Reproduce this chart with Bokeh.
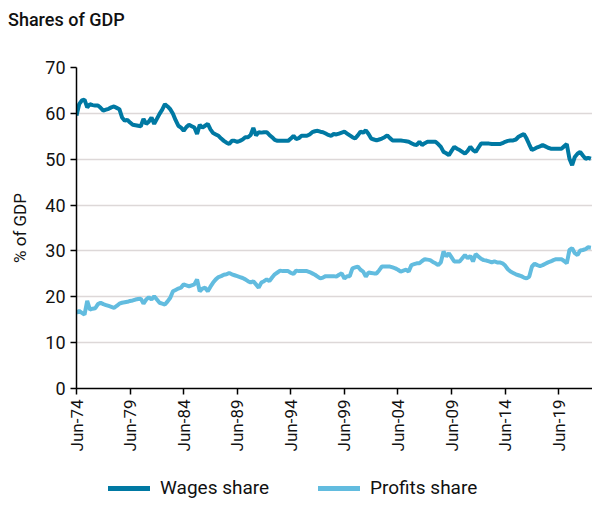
import math
from bokeh.plotting import figure
from bokeh.layouts import column
from bokeh.models import Range1d, FixedTicker, ColumnDataSource, Div
from bokeh.embed import file_html
from bokeh.resources import INLINE

# Quarterly series, Jun-74 .. Jun-22 (% of GDP)
wages = [
    59.5, 62.0, 62.8, 63.0, 61.3, 62.0, 61.8, 61.7, 61.7, 61.2, 60.6, 60.8,
    61.0, 61.3, 61.5, 61.2, 60.9, 59.1, 58.4, 58.6, 58.0, 57.5, 57.4, 57.3,
    57.2, 58.8, 57.7, 58.2, 59.1, 57.7, 58.8, 59.9, 60.8, 62.0, 61.5, 60.9,
    59.9, 58.5, 57.3, 56.9, 56.2, 57.0, 57.5, 57.2, 56.9, 55.5, 57.5, 56.9,
    57.3, 57.7, 56.5, 55.7, 55.4, 55.1, 54.5, 54.0, 53.6, 53.3, 54.0, 54.0,
    53.8, 54.0, 54.3, 54.8, 54.8, 55.3, 56.8, 55.2, 55.9, 55.8, 55.9, 55.9,
    55.3, 54.8, 54.2, 54.0, 54.0, 54.0, 54.0, 54.0, 54.5, 55.1, 54.4, 54.6,
    55.1, 55.1, 55.1, 55.4, 55.9, 56.1, 56.2, 56.0, 55.9, 55.6, 55.3, 55.1,
    55.5, 55.4, 55.6, 55.8, 56.0, 55.6, 55.2, 54.8, 54.5, 55.2, 56.0, 55.8,
    56.3, 55.5, 54.5, 54.3, 54.1, 54.3, 54.5, 54.8, 55.2, 54.6, 54.1, 54.1,
    54.1, 54.1, 54.0, 53.9, 53.8, 53.5, 53.2, 53.1, 53.8, 53.1, 53.5, 53.8,
    53.8, 53.8, 53.8, 53.3, 52.7, 51.6, 51.3, 50.9, 51.8, 52.7, 52.3, 52.0,
    51.6, 51.2, 51.8, 52.7, 52.0, 51.6, 52.5, 53.4, 53.4, 53.4, 53.4, 53.3,
    53.3, 53.3, 53.3, 53.5, 53.8, 54.0, 54.1, 54.1, 54.3, 54.9, 55.2, 55.5,
    54.5, 53.2, 52.0, 52.3, 52.6, 52.8, 53.1, 52.8, 52.5, 52.3, 52.3, 52.3,
    52.3, 52.3, 52.8, 53.3, 50.1, 48.7, 50.5, 51.2, 51.6, 50.8, 50.1, 50.3,
    50.1,
]
profits = [
    16.5, 16.9, 16.5, 16.1, 19.1, 17.2, 17.4, 17.5, 18.4, 18.7, 18.4, 18.2,
    18.0, 17.8, 17.6, 18.0, 18.5, 18.7, 18.8, 18.9, 19.1, 19.2, 19.4, 19.5,
    19.6, 18.5, 19.4, 19.9, 19.4, 20.1, 19.4, 18.7, 18.5, 18.3, 19.0, 19.8,
    21.2, 21.5, 21.8, 22.0, 22.7, 22.5, 22.3, 22.5, 22.7, 23.8, 21.2, 21.8,
    22.0, 21.2, 22.2, 23.1, 23.8, 24.3, 24.5, 24.8, 24.9, 25.2, 24.9, 24.7,
    24.5, 24.3, 24.1, 23.8, 23.4, 23.1, 23.4, 22.7, 22.0, 23.1, 23.4, 23.8,
    23.4, 24.2, 24.9, 25.3, 25.7, 25.6, 25.6, 25.6, 25.2, 25.0, 25.7, 25.6,
    25.6, 25.6, 25.6, 25.4, 25.1, 24.8, 24.4, 24.0, 24.2, 24.5, 24.5, 24.5,
    24.5, 24.4, 24.8, 25.1, 24.0, 24.5, 24.5, 26.2, 26.4, 26.6, 25.9, 25.5,
    24.4, 25.3, 25.2, 25.1, 25.1, 25.8, 26.6, 26.6, 26.6, 26.6, 26.4, 26.2,
    25.9, 25.5, 25.7, 25.9, 25.5, 26.9, 27.1, 27.3, 27.3, 27.8, 28.2, 28.1,
    28.0, 27.6, 27.3, 26.9, 27.5, 29.9, 28.8, 29.5, 28.6, 27.7, 27.7, 27.7,
    28.4, 29.1, 28.4, 28.9, 27.7, 29.3, 28.8, 28.3, 28.0, 27.9, 27.7, 27.5,
    27.7, 27.5, 27.5, 27.3, 26.8, 26.0, 25.5, 25.2, 24.9, 24.7, 24.5, 24.2,
    24.0, 24.4, 26.6, 27.2, 26.9, 26.7, 26.9, 27.2, 27.5, 27.7, 28.0, 28.2,
    28.2, 28.2, 27.8, 27.3, 30.2, 30.6, 29.5, 29.1, 30.1, 30.2, 30.4, 30.8,
    30.7,
]
tick_labels = ["Jun-74", "Jun-79", "Jun-84", "Jun-89", "Jun-94",
               "Jun-99", "Jun-04", "Jun-09", "Jun-14", "Jun-19"]
tick_positions = [0, 20, 40, 60, 80, 100, 120, 140, 160, 180]
y_ticks = [0, 10, 20, 30, 40, 50, 60, 70]
series_names = ["Wages share", "Profits share"]

quarter = list(range(len(wages)))
src = ColumnDataSource(dict(q=quarter, wages=wages, profits=profits))

FONT = "Roboto"
WAGES_C = "#0079A3"
PROFITS_C = "#62BCDF"
TEXT_C = "#111111"

title = Div(text="Shares of GDP", width=592, height=40, margin=0,
            styles={"font-family": "Roboto", "font-size": "18px",
                    "font-weight": "500", "color": TEXT_C,
                    "padding-left": "8px", "line-height": "40px",
                    "box-sizing": "border-box"})

p = figure(frame_width=516, frame_height=321, output_backend="svg",
           toolbar_location=None, margin=0,
           x_range=Range1d(0, 192.6), y_range=Range1d(0, 70),
           min_border_left=76, min_border_right=0, min_border_top=27,
           min_border_bottom=82)
p.outline_line_color = None
p.background_fill_color = "white"
p.border_fill_color = "white"

p.line("q", "wages", source=src, line_color=WAGES_C, line_width=4)
p.line("q", "profits", source=src, line_color=PROFITS_C, line_width=4)

# y axis
p.yaxis.ticker = FixedTicker(ticks=y_ticks)
p.yaxis.axis_label = "% of GDP"
p.yaxis.axis_label_text_font = FONT
p.yaxis.axis_label_text_font_size = "17px"
p.yaxis.axis_label_text_font_style = "normal"
p.yaxis.axis_label_text_color = TEXT_C
p.yaxis.axis_label_standoff = 12
p.yaxis.major_label_text_font = FONT
p.yaxis.major_label_text_font_size = "18px"
p.yaxis.major_label_text_color = TEXT_C
p.yaxis.axis_line_color = "black"
p.yaxis.axis_line_width = 1.5
p.yaxis.major_tick_line_color = "black"
p.yaxis.major_tick_line_width = 1.5
p.yaxis.major_tick_out = 6
p.yaxis.major_tick_in = 0
p.yaxis.minor_tick_line_color = None

# x axis
p.xaxis.ticker = FixedTicker(ticks=tick_positions)
p.xaxis.major_label_overrides = {t: l for t, l in zip(tick_positions, tick_labels)}
p.xaxis.major_label_orientation = math.pi / 2
p.xaxis.major_label_text_font = FONT
p.xaxis.major_label_text_font_size = "17px"
p.xaxis.major_label_text_color = TEXT_C
p.xaxis.axis_line_color = "black"
p.xaxis.axis_line_width = 1.5
p.xaxis.major_tick_line_color = "black"
p.xaxis.major_tick_line_width = 1.5
p.xaxis.major_tick_out = 6
p.xaxis.major_tick_in = 0
p.xaxis.minor_tick_line_color = None

p.xgrid.grid_line_color = None
p.ygrid.grid_line_color = "#DDD8D8"
p.ygrid.grid_line_width = 1.5

# legend strip below the chart (HTML)
legend_html = (
    '<div style="position:relative;width:592px;height:39px;'
    'font-family:Roboto;font-size:19px;color:%s;">'
    '<span style="position:absolute;left:108px;top:16px;width:42px;height:5px;'
    'background:%s;"></span>'
    '<span style="position:absolute;left:160px;top:6px;line-height:24px;'
    'white-space:nowrap;">%s</span>'
    '<span style="position:absolute;left:318px;top:16px;width:42px;height:5px;'
    'background:%s;"></span>'
    '<span style="position:absolute;left:370px;top:6px;line-height:24px;'
    'white-space:nowrap;">%s</span>'
    '</div>'
) % (TEXT_C, WAGES_C, series_names[0], PROFITS_C, series_names[1])
lg = Div(text=legend_html, width=592, height=39, margin=0)

layout = column(title, p, lg, spacing=0, margin=0)
open("out.html", "w").write(file_html(layout, INLINE))
